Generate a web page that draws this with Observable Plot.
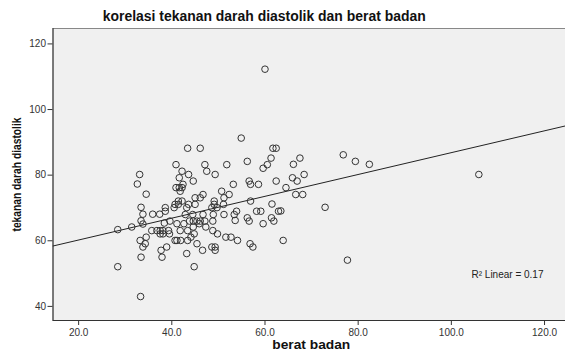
<!DOCTYPE html>
<html><head><meta charset="utf-8">
<script src="https://cdn.jsdelivr.net/npm/d3@7"></script>
<script src="https://cdn.jsdelivr.net/npm/@observablehq/plot@0.6"></script>
<style>body{margin:0;background:#fff} svg{display:block}</style>
</head><body><div id="chart"></div>
<script>
const titleText = "korelasi tekanan darah diastolik dan berat badan";
const xLabel = "berat badan";
const yLabel = "tekanan darah diastolik";
const r2Label = "R² Linear = 0.17";
const xTicks = [20, 40, 60, 80, 100, 120];
const yTicks = [40, 60, 80, 100, 120];

const beratBadan = [
  60.0, 54.9, 43.4, 46.1, 61.7, 62.4, 61.3, 56.2, 60.5, 59.6,
  40.9, 47.1, 51.8, 47.5, 49.3, 42.2, 43.6, 41.6, 44.6, 42.4,
  40.9, 41.6, 42.2, 41.8, 56.6, 56.9, 58.6, 53.2, 62.4, 50.7,
  52.3, 46.7, 46.1, 45.0, 51.2, 41.4, 42.2, 40.7, 41.4, 49.1,
  49.1, 51.1, 56.9, 43.6, 45.0, 40.5, 38.6, 43.2, 48.6, 49.7,
  38.6, 53.9, 53.4, 58.2, 59.1, 62.9, 44.5, 46.7, 48.9, 51.2,
  42.9, 39.6, 38.4, 43.8, 44.6, 45.4, 46.1, 47.1, 48.8, 53.6,
  56.2, 56.6, 61.4, 61.9, 59.6, 41.1, 42.6, 45.9, 38.1, 39.3,
  41.8, 43.4, 44.6, 47.3, 48.8, 39.5, 38.1, 44.8, 49.8, 44.1,
  51.6, 52.7, 54.1, 40.7, 41.1, 41.9, 43.4, 45.4, 56.8, 57.4,
  38.9, 48.6, 49.3, 49.3, 46.6, 43.2, 37.9, 44.8, 33.1, 32.6,
  34.5, 33.4, 33.8, 35.9, 37.4, 33.4, 33.8, 31.4, 28.4, 35.7,
  36.8, 37.5, 37.5, 34.5, 33.2, 34.3, 33.8, 37.7, 33.4, 28.4,
  33.3, 67.5, 66.1, 76.8, 79.4, 82.4, 68.4, 65.9, 66.9, 64.5,
  66.6, 68.1, 61.5, 63.4, 72.9, 63.9, 77.7, 105.9
];
const tekananDiastolik = [
  112.3, 91.3, 88.2, 88.2, 88.2, 88.2, 85.2, 84.2, 83.2, 82.1,
  83.2, 83.2, 83.2, 81.2, 80.2, 81.2, 80.2, 79.2, 78.2, 77.2,
  76.2, 76.2, 76.2, 75.1, 78.2, 77.2, 77.2, 77.2, 78.2, 75.1,
  74.1, 74.1, 73.1, 73.1, 73.1, 72.1, 72.1, 71.1, 71.1, 72.1,
  71.1, 71.1, 72.1, 71.1, 71.1, 70.1, 70.1, 70.1, 70.1, 70.1,
  69.0, 69.0, 68.0, 69.0, 69.0, 69.0, 68.0, 68.0, 68.0, 68.0,
  68.0, 66.0, 65.4, 66.0, 66.0, 66.0, 66.0, 66.0, 66.0, 66.2,
  67.0, 66.0, 67.0, 66.0, 65.2, 65.2, 65.2, 65.2, 63.1, 63.1,
  63.1, 63.1, 64.2, 64.2, 63.1, 62.1, 62.1, 62.1, 62.1, 61.1,
  61.1, 61.1, 60.1, 60.1, 60.1, 60.1, 60.1, 59.1, 59.1, 58.1,
  58.1, 58.1, 58.1, 57.1, 57.1, 56.1, 55.0, 52.1, 80.2, 77.3,
  74.2, 70.2, 68.1, 68.1, 68.1, 66.1, 65.1, 64.2, 63.4, 63.1,
  63.1, 63.1, 62.1, 61.1, 60.1, 59.1, 58.1, 57.1, 55.0, 52.1,
  43.0, 85.2, 83.3, 86.2, 84.2, 83.3, 80.2, 79.2, 78.2, 76.2,
  74.1, 74.1, 71.2, 69.1, 70.2, 60.1, 54.1, 80.2
];

const data = beratBadan.map((x, i) => ({x, y: tekananDiastolik[i]}));
const mx = d3.mean(data, d => d.x), my = d3.mean(data, d => d.y);
const slope = d3.sum(data, d => (d.x - mx) * (d.y - my)) / d3.sum(data, d => (d.x - mx) ** 2);
const intercept = my - slope * mx;
const xDomain = [14.5, 124.5];
const yDomain = [35.7, 124.7];
const fit = xDomain.map(x => ({x, y: intercept + slope * x}));

const chart = Plot.plot({
  width: 565, height: 351,
  marginLeft: 52.5, marginRight: 0, marginTop: 28, marginBottom: 31,
  style: {fontFamily: "'Liberation Sans', Arial, sans-serif", background: "#fff", color: "#222"},
  x: {domain: xDomain, label: null},
  y: {domain: yDomain, label: null},
  marks: [
    Plot.frame({fill: "#f0f0f0", stroke: "#888"}),
    Plot.ruleX([xDomain[0]], {stroke: "#333"}),
    Plot.ruleY([yDomain[0]], {stroke: "#333"}),
    Plot.axisX({ticks: xTicks, tickFormat: d => d.toFixed(1), tickSize: 5, tickPadding: 3, fontSize: 10, stroke: "#333", fill: "#333"}),
    Plot.axisY({ticks: yTicks, tickSize: 5, tickPadding: 2, fontSize: 10, stroke: "#333", fill: "#333"}),
    Plot.line(fit, {x: "x", y: "y", stroke: "#222", strokeWidth: 1, clip: true}),
    Plot.dot(data, {x: "x", y: "y", r: 3.3, stroke: "#333", fill: "none", strokeWidth: 1}),
    Plot.text([r2Label], {frameAnchor: "bottom-right", dx: -22, dy: -46, textAnchor: "end", lineAnchor: "middle", fontSize: 10, fill: "#222"}),
    Plot.text([titleText], {frameAnchor: "top", dx: -45, dy: -12, lineAnchor: "middle", fontSize: 14, fontWeight: "bold", fill: "#111"}),
    Plot.text([xLabel], {frameAnchor: "bottom", dx: 2, dy: 24, lineAnchor: "middle", fontSize: 13, fontWeight: "bold", fill: "#111"}),
    Plot.text([yLabel], {frameAnchor: "left", dx: -35.5, rotate: -90, textAnchor: "middle", lineAnchor: "middle", fontSize: 12, fontWeight: "bold", fill: "#111"})
  ]
});
const widths = new Map([[titleText, 323], [xLabel, 78], [yLabel, 114]]);
d3.select(chart).selectAll("text").each(function() {
  const w = widths.get(this.textContent);
  if (w) d3.select(this).attr("textLength", w).attr("lengthAdjust", "spacingAndGlyphs");
});
document.getElementById("chart").appendChild(chart);
</script>
</body></html>
